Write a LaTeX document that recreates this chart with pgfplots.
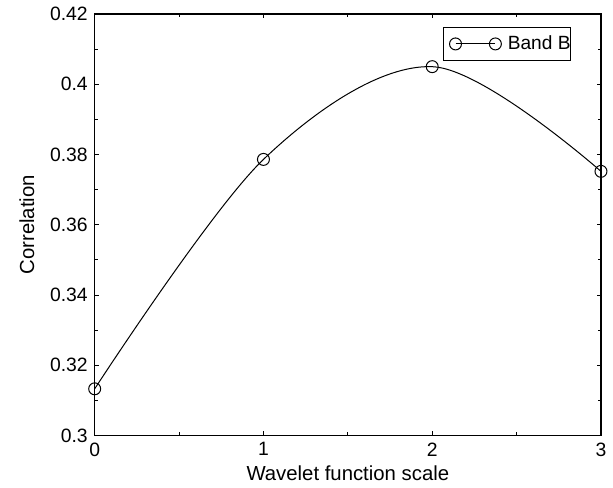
\documentclass[border=0pt]{standalone}
\usepackage{fontspec}
\setmainfont{Liberation Sans}
\usepackage{pgfplots}
\pgfplotsset{compat=1.18}

\begin{document}
\begin{tikzpicture}
\begin{axis}[
  name=ax,
  scale only axis,
  width=254pt, height=211.5pt,
  xmin=0, xmax=3, ymin=0.3, ymax=0.42,
  xtick={0,1,2,3},
  ytick={0.3,0.32,0.34,0.36,0.38,0.4,0.42},
  minor x tick num=1, minor y tick num=1,
  tick align=inside,
  major tick length=2.2pt, minor tick length=1.6pt,
  axis line style={line width=0.6pt},
  every tick/.style={line width=0.5pt, black},
  /pgf/number format/assume math mode=true,
  /pgf/number format/fixed, /pgf/number format/precision=2,
  tick label style={font=\fontsize{9.7}{12}\selectfont},
  label style={font=\fontsize{10.2}{12}\selectfont},
  xlabel={Wavelet function scale},
  ylabel={Correlation},
  xlabel style={yshift=2pt},
  ylabel style={yshift=1pt},
  legend style={at={(0.941,0.969)}, anchor=north east, draw=black,
    line width=0.5pt, font=\fontsize{9.6}{11}\selectfont,
    inner xsep=0pt, inner ysep=2.5pt,
    nodes={inner xsep=0pt, inner ysep=1.5pt}},
  legend cell align=left,
  legend image code/.code={%
    \draw[#1] plot coordinates {(6pt,0pt) (26pt,0pt)};
    \path (0pt,0pt) (32pt,0pt);},
]
\addplot[black, line width=0.5pt, smooth, tension=0.55,
  mark=o, mark size=3pt, mark options={line width=0.5pt}]
  coordinates {(0,0.3133) (1,0.3786) (2,0.4050) (3,0.3752)};
\addlegendentry{Band B}
\end{axis}
\path ([xshift=-47.5pt,yshift=-24.5pt]ax.south west)
  rectangle ([xshift=5pt,yshift=7pt]ax.north east);
\end{tikzpicture}
\end{document}
